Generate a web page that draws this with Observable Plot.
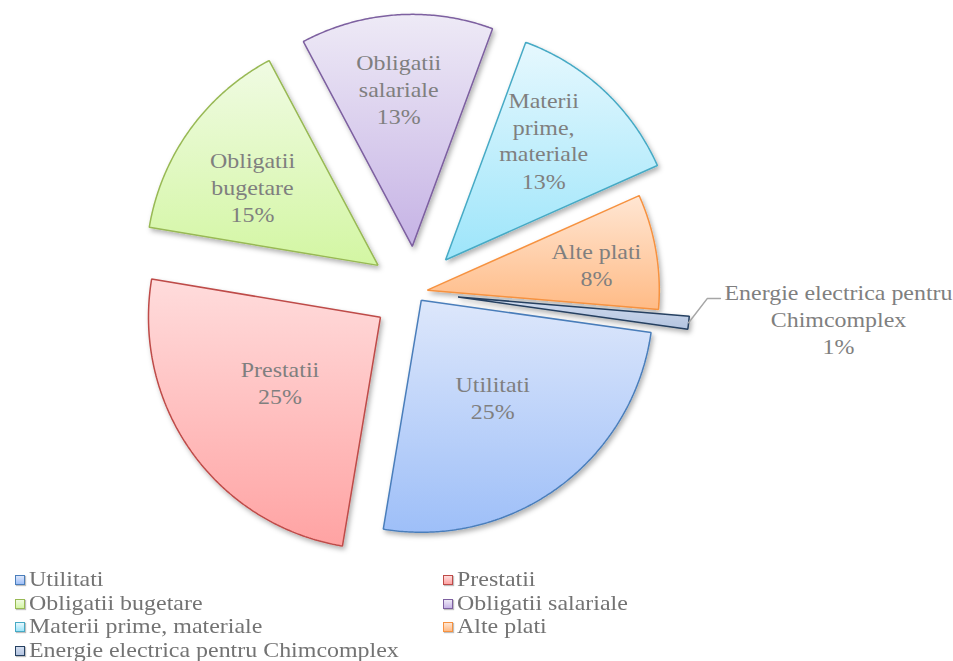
<!DOCTYPE html>
<html><head><meta charset="utf-8">
<script src="https://cdn.jsdelivr.net/npm/d3@7"></script>
<script src="https://cdn.jsdelivr.net/npm/@observablehq/plot@0.6"></script>
<style>
html,body{margin:0;padding:0;background:#fff;overflow:hidden;}
body{font-family:"Liberation Serif","Times New Roman",serif;}
#chart svg{display:block;overflow:visible;}
#legend{display:grid;grid-template-columns:428px 400px;padding-left:15px;margin-top:8px;}
.item{height:23.7px;font-size:21px;color:#737373;white-space:nowrap;display:flex;align-items:center;}
.sw{width:8px;height:8px;border:1.5px solid;margin-right:4px;flex:none;box-shadow:1px 1px 1px rgba(0,0,0,.25);}
.lt{display:inline-block;transform:scaleX(1.14);transform-origin:left center;line-height:23.7px;}
</style></head><body>
<div id="chart"></div><div id="legend"></div>
<script>
// ---- data ----
const categories = ["Utilitati","Prestatii","Obligatii bugetare","Obligatii salariale","Materii prime, materiale","Alte plati","Energie electrica pentru Chimcomplex"];
const values = [25.4, 25.0, 14.6, 13.4, 12.7, 8.0, 0.9];
const labelLines = ["Utilitati","Prestatii","Obligatii\nbugetare","Obligatii\nsalariale","Materii\nprime,\nmateriale","Alte plati","Energie electrica pentru\nChimcomplex"];

// ---- styles / layout ----
const strokeColors = ["#4a7ebb","#be4b48","#98b954","#7d60a0","#46aac5","#f69240","#254061"];
const gradTop    = ["#dde7fb","#ffdcdc","#f0fbe3","#eeeaf6","#e6f8fe","#ffe6d3","#d3ddef"];
const gradBottom = ["#9ebff8","#ffa3a3","#d3f6a3","#c6b3e5","#9de5fa","#ffbb86","#b3c4e0"];
const explode = [0.043, 0.185, 0.198, 0.198, 0.19, 0.052, 0.185];
const labelRadius = [0.56, 0.70, 0.837, 0.88, 0.86, 0.79];
const labelAngle = [143.5, 236.5, 303.0, 355.3, 40.0, 81.0];
const startAngleDeg = 98;

const W = 953, H = 560, R = 232, CX = 414.9, CY = 291.7;
const a0 = startAngleDeg * Math.PI / 180;
const arcs = d3.pie().sort(null).startAngle(a0).endAngle(a0 + 2 * Math.PI)(values);
const total = d3.sum(values);
const dir = a => [Math.sin(a), -Math.cos(a)];

const slices = arcs.map((p, i) => {
  const mid = (p.startAngle + p.endAngle) / 2;
  const [dx, dy] = dir(mid);
  const ox = explode[i] * dx, oy = explode[i] * dy;
  const pts = [{x: ox, y: oy}];
  const n = Math.max(3, Math.ceil((p.endAngle - p.startAngle) / (Math.PI / 360)));
  for (let k = 0; k <= n; k++) {
    const a = p.startAngle + (p.endAngle - p.startAngle) * k / n;
    const [ux, uy] = dir(a);
    pts.push({x: ox + ux, y: oy + uy});
  }
  pts.push({x: ox, y: oy});
  return {i, mid, dx, dy, ox, oy, pts, pct: Math.round(values[i] / total * 100) + "%"};
});

const inside = slices.filter(s => s.i < 6).map(s => {
  const [lx, ly] = dir(labelAngle[s.i] * Math.PI / 180);
  return {x: labelRadius[s.i] * lx, y: labelRadius[s.i] * ly, text: labelLines[s.i] + "\n" + s.pct};
});

// callout for the smallest slice
const e = slices[6];
const p0 = {x: e.ox + e.dx, y: e.oy + e.dy};
const p1 = {x: p0.x + 0.081, y: p0.y - 0.105};
const p2 = {x: p1.x + 0.056, y: p1.y};
const outside = [{x: p2.x + 0.509, y: p2.y + 0.084, text: labelLines[6] + "\n" + e.pct}];

const plot = Plot.plot({
  width: W, height: H, margin: 0,
  x: {domain: [-CX / R, (W - CX) / R], range: [0, W], axis: null},
  y: {domain: [-CY / R, (H - CY) / R], range: [0, H], axis: null},
  marks: [
    ...slices.map(s => Plot.line(s.pts, {x: "x", y: "y", fill: `url(#grad${s.i})`, stroke: strokeColors[s.i], strokeWidth: 1.5, strokeLinejoin: "miter", strokeLinecap: "butt"})),
    Plot.line([p0, p1, p2], {x: "x", y: "y", stroke: "#a6a6a6", strokeWidth: 1.5, strokeLinejoin: "miter"}),
    Plot.text(inside, {x: "x", y: "y", text: "text", fontSize: 21, fontFamily: "Liberation Serif", fill: "#7f7f7f", lineHeight: 1.286, lineAnchor: "middle"}),
    Plot.text(outside, {x: "x", y: "y", text: "text", fontSize: 21, fontFamily: "Liberation Serif", fill: "#7f7f7f", lineHeight: 1.286, lineAnchor: "middle"})
  ]
});

const svg = d3.select(plot);
const defs = svg.insert("defs", ":first-child");
categories.forEach((c, i) => {
  const g = defs.append("linearGradient").attr("id", "grad" + i).attr("x1", 0).attr("y1", 0).attr("x2", 0).attr("y2", 1);
  g.append("stop").attr("offset", "0%").attr("stop-color", gradTop[i]);
  g.append("stop").attr("offset", "100%").attr("stop-color", gradBottom[i]);
});
const f = defs.append("filter").attr("id", "shadow").attr("x", "-20%").attr("y", "-20%").attr("width", "150%").attr("height", "150%");
f.append("feDropShadow").attr("dx", 2).attr("dy", 3).attr("stdDeviation", 2.5).attr("flood-color", "#000").attr("flood-opacity", 0.3);
svg.selectAll('g[aria-label="line"]').filter((d, i) => i < 7).attr("filter", "url(#shadow)");
svg.selectAll('g[aria-label="text"] text').attr("transform", function () { return this.getAttribute("transform") + " scale(1.14,1)"; });
document.getElementById("chart").appendChild(plot);

// legend
const legend = d3.select("#legend");
categories.forEach((c, i) => {
  const it = legend.append("div").attr("class", "item");
  it.append("span").attr("class", "sw").style("border-color", strokeColors[i]).style("background", `linear-gradient(to bottom, ${gradTop[i]}, ${gradBottom[i]})`);
  it.append("span").attr("class", "lt").text(c);
});
</script>
</body></html>
